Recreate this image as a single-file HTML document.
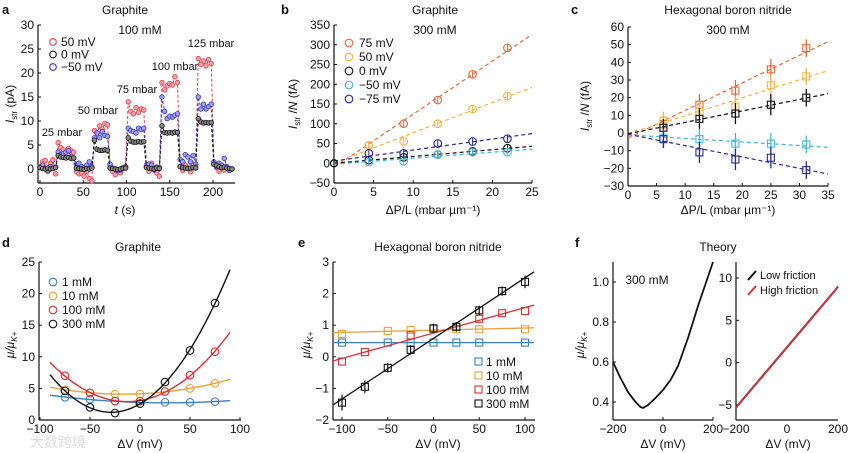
<!DOCTYPE html>
<html><head><meta charset="utf-8">
<style>
html,body{margin:0;padding:0;background:#fff;}
svg{display:block;font-family:"Liberation Sans","Noto Sans CJK SC",sans-serif;}
text{fill:#111;}
</style></head>
<body>
<svg id="fig" width="850" height="453" viewBox="0 0 850 453" xmlns="http://www.w3.org/2000/svg">
<g font-size="12">
<text x="2" y="14" font-weight="bold" font-size="13">a</text>
<text x="281" y="14" font-weight="bold" font-size="13">b</text>
<text x="571" y="14" font-weight="bold" font-size="13">c</text>
<text x="2" y="247" font-weight="bold" font-size="13">d</text>
<text x="298" y="247" font-weight="bold" font-size="13">e</text>
<text x="575" y="247" font-weight="bold" font-size="13">f</text>
<text x="125" y="14" text-anchor="middle">Graphite</text>
<text x="140" y="34" text-anchor="middle">100 mM</text>
<text x="435" y="14" text-anchor="middle">Graphite</text>
<text x="435" y="34" text-anchor="middle">300 mM</text>
<text x="728" y="14" text-anchor="middle">Hexagonal boron nitride</text>
<text x="728" y="34" text-anchor="middle">300 mM</text>
<text x="138" y="251" text-anchor="middle">Graphite</text>
<text x="438" y="251" text-anchor="middle">Hexagonal boron nitride</text>
<text x="718" y="251" text-anchor="middle">Theory</text>
<text x="647" y="284" text-anchor="middle">300 mM</text>
<text x="62" y="136" text-anchor="middle" font-size="11">25 mbar</text>
<text x="98" y="114" text-anchor="middle" font-size="11">50 mbar</text>
<text x="137" y="93" text-anchor="middle" font-size="11">75 mbar</text>
<text x="175" y="70" text-anchor="middle" font-size="11">100 mbar</text>
<text x="211" y="47" text-anchor="middle" font-size="11">125 mbar</text>
<text x="125" y="214" text-anchor="middle"><tspan font-style="italic">t</tspan> (s)</text>
<text x="433" y="214" text-anchor="middle">ΔP/L (mbar µm⁻¹)</text>
<text x="728" y="214" text-anchor="middle">ΔP/L (mbar µm⁻¹)</text>
<text x="140" y="448" text-anchor="middle">ΔV (mV)</text>
<text x="438" y="448" text-anchor="middle">ΔV (mV)</text>
<text x="663" y="448" text-anchor="middle">ΔV (mV)</text>
<text x="788" y="448" text-anchor="middle">ΔV (mV)</text>
<text transform="translate(14,104) rotate(-90)" text-anchor="middle"><tspan font-style="italic">I</tspan><tspan font-size="8" dy="3">str</tspan><tspan dy="-3"> (pA)</tspan></text>
<text transform="translate(297,104) rotate(-90)" text-anchor="middle"><tspan font-style="italic">I</tspan><tspan font-size="8" dy="3">str</tspan><tspan dy="-3"> /</tspan><tspan font-style="italic">N</tspan> (fA)</text>
<text transform="translate(589,106) rotate(-90)" text-anchor="middle"><tspan font-style="italic">I</tspan><tspan font-size="8" dy="3">str</tspan><tspan dy="-3"> /</tspan><tspan font-style="italic">N</tspan> (fA)</text>
<text transform="translate(14,345) rotate(-90)" text-anchor="middle" font-style="italic">μ/μ<tspan font-size="8" dy="3">K+</tspan></text>
<text transform="translate(310,345) rotate(-90)" text-anchor="middle" font-style="italic">μ/μ<tspan font-size="8" dy="3">K+</tspan></text>
<text transform="translate(584,345) rotate(-90)" text-anchor="middle" font-style="italic">μ/μ<tspan font-size="8" dy="3">K+</tspan></text>
<text x="760" y="279" font-size="11">Low friction</text>
<text x="760" y="294" font-size="11">High friction</text>
<text x="30" y="447" font-size="14" style="fill:#ddd">大数跨境</text>
</g>
</svg>
<script>
// ---------- data ----------
const aTime=[0,3,6,9,12,15,18,21,24,27,30,33,36,39,42,45,48,51,54,57,60,63,66,69,72,75,78,81,84,87,90,93,96,99,102,105,108,111,114,117,120,123,126,129,132,135,138,141,144,147,150,153,156,159,162,165,168,171,174,177,180,183,186,189,192,195,198,201,204,207,210,213,216,219,222];
const aBlack=[0.3,0.1,0,0.2,0,0.1,0.3, 2.8,2.5,2.4,2.3,2.4,2.2,2.3, 0.2,0.1,0,-0.1,0.1,0,0.2, 6,4.1,3.9,3.9,4,3.9, 0.2,0.1,0,-0.1,0,0.1,0.2, 6.5,5.8,5.6,5.6,5.7,5.6,5.7, 0.3,0.2,0.1,0,0.2,0.1, 9,7.6,7.5,7.6,7.5,7.7,7.6, 0.5,0.3,0.2,0.1,0.2,0.3,0.2, 10.5,9.8,9.6,9.7,9.6,9.7, 1,0.8,0.5,0.3,0.4,0.2,0.1,0];
const aRed=[0.5,1.5,1.8,-0.5,1.2,1.9,-1, 5.5,4.5,4,3.5,4.3,3.8,3.5, -0.5,-1,-0.8,-1.5,-0.5,-2,-3, 8,7.5,9,8.3,9.5,9.2, 0.5,-0.5,-1.2,-0.3,-0.8,0.3,0.5, 14,12,11.5,12.8,11.8,12.5,12.3, 0.8,-0.5,1.2,0.2,-0.8,-1.5, 18,16.5,17.3,17.8,17.5,19.2,18, 0.5,-0.3,0.8,0.2,-0.6,1,0.3, 23,21.8,22.5,21.5,22.8,22, 1,0.3,-0.5,0.8,-0.2,0.5,-0.3,0];
const aBlue=[0.3,0.8,0.2,-0.3,0.5,0.2,0.4, 3.5,3,3.2,3.5,3.8,2.5,2.3, 1,1.2,0.5,0.3,0.8,1.5,0.5, 6.5,7.5,6.5,7.8,7,6.8, 1,0.2,0,-0.3,-0.2,0.2,0.4, 8.5,8,7.8,7.5,8.5,8.2,8.5, 0.5,1,0.8,-0.2,0.4,0.3, 15,12,10.5,11,10.8,11.2,11.5, 2,1.5,3,2.5,1.5,2.8,1, 15,12.5,13.5,12.5,13,13.5, 1.5,0.5,1.2,0.8,2.2,0.5,-0.3,0];
const aXTicks=[0,50,100,150,200];
const aYTicks=[0,5,10,15,20,25,30];

const bX=[4.4,8.8,13.1,17.5,21.9];
const b75=[45,100,160,225,292];
const b50=[45,55,100,137,170];
const b0=[8,15,22,30,38];
const bm50=[3,5,22,28,28];
const bm75=[25,25,50,55,62];
const bLabels=["75 mV","50 mV","0 mV","\u221250 mV","\u221275 mV"];
const bXTicks=[0,5,10,15,20,25];
const bYTicks=[-50,0,50,100,150,200,250,300,350];

const cX=[6.2,12.5,18.8,25,31.2];
const c75=[5,16,24,36,48];
const c50=[7,12,15,27,32];
const c0=[3,8,11,16,20];
const cm50=[-3,-3.5,-6,-6,-6.5];
const cm75=[-3.5,-11,-15,-14,-21];
const cErr=[5,6,6,6,5];
const cXTicks=[0,5,10,15,20,25,30,35];
const cYTicks=[-30,-20,-10,0,10,20,30,40,50,60];

const dX=[-75,-50,-25,0,25,50,75];
const d1=[3.6,3.3,3.0,2.6,2.8,2.8,2.9];
const d10=[4.8,4.3,4.1,4.1,4.5,5,5.8];
const d100=[7,4.3,3.0,3.0,4.5,7.1,10.8];
const d300=[4.6,2.0,1.1,2.6,6,11,18.5];
const dLabels=["1 mM","10 mM","100 mM","300 mM"];
const dXTicks=[-100,-50,0,50,100];
const dYTicks=[0,5,10,15,20,25];

const eX=[-100,-75,-50,-25,0,25,50,75,100];
const e1=[0.45,null,0.45,0.45,0.45,0.45,0.45,null,0.45];
const e10=[0.72,null,0.82,0.85,0.88,0.88,0.87,null,0.87];
const e100=[-0.15,0.15,null,0.68,null,null,1.2,1.38,1.45];
const e300=[-1.45,-0.95,-0.35,0.22,0.9,0.95,1.47,2.08,2.37];
const e300Err=[0.25,0.2,0.15,0.15,0.15,0.15,0.15,0.15,0.2];
const eXTicks=[-100,-50,0,50,100];
const eYTicks=[-2,-1,0,1,2,3];

const fX=[-200,-170,-140,-110,-90,-80,-60,-30,0,30,60,100,140,170,200];
const fY=[0.6,0.52,0.45,0.4,0.375,0.37,0.385,0.42,0.46,0.51,0.58,0.72,0.88,0.99,1.1];
const fRX=[-200,190,200];
const fRLow=[-5.3,8.6,9.0];
const fRHigh=[-5.3,8.6,9.0];
const fXTicks=[-200,0,200];
const fYTicks=[0.4,0.6,0.8,1.0];
const fRYTicks=[-5,0,5,10];

// ---------- helpers ----------
const NS="http://www.w3.org/2000/svg";
const svg=document.getElementById('fig');
function mk(tag,attrs,name){
  const e=document.createElementNS(NS,tag);
  for(const k in attrs) e.setAttribute(k,attrs[k]);
  
  
  svg.appendChild(e);return e;
}
function scale(d0,d1,p0,p1){return v=>p0+(v-d0)*(p1-p0)/(d1-d0);}
function axes(sx,sy,xl,xr,yb,yt,xt,yt2,nm,fmt){
  mk('line',{x1:xl,y1:yb,x2:xr,y2:yb,stroke:'#111','stroke-width':1.2},nm+'-x-axis');
  mk('line',{x1:xl,y1:yb,x2:xl,y2:yt,stroke:'#111','stroke-width':1.2},nm+'-y-axis');
  xt.forEach(v=>{
    mk('line',{x1:sx(v),y1:yb,x2:sx(v),y2:yb-3,stroke:'#111'},nm+'-x-tick');
    const t=mk('text',{x:sx(v),y:yb+13,'text-anchor':'middle','font-size':12},nm+'-x-tick-label');
    t.textContent=String(v).replace('-','\u2212');
  });
  yt2.forEach(v=>{
    mk('line',{x1:xl,y1:sy(v),x2:xl+3,y2:sy(v),stroke:'#111'},nm+'-y-tick');
    const t=mk('text',{x:xl-4,y:sy(v)+4,'text-anchor':'end','font-size':12},nm+'-y-tick-label');
    t.textContent=(fmt?fmt(v):String(v)).replace('-','\u2212');
  });
}
function linfit(xs,ys){let n=0,sx=0,sy=0,sxx=0,sxy=0;xs.forEach((x,i)=>{const y=ys[i];if(y==null)return;n++;sx+=x;sy+=y;sxx+=x*x;sxy+=x*y;});const b=(n*sxy-sx*sy)/(n*sxx-sx*sx);return [(sy-b*sx)/n,b];}
function quadfit(xs,ys){
  let S=[0,0,0,0,0],T=[0,0,0];
  xs.forEach((x,i)=>{const y=ys[i];for(let k=0;k<5;k++)S[k]+=Math.pow(x,k);for(let k=0;k<3;k++)T[k]+=y*Math.pow(x,k);});
  const M=[[S[0],S[1],S[2],T[0]],[S[1],S[2],S[3],T[1]],[S[2],S[3],S[4],T[2]]];
  for(let i=0;i<3;i++){for(let j=i+1;j<3;j++){const f=M[j][i]/M[i][i];for(let k=i;k<4;k++)M[j][k]-=f*M[i][k];}}
  const c=[0,0,0];for(let i=2;i>=0;i--){let s=M[i][3];for(let k=i+1;k<3;k++)s-=M[i][k]*c[k];c[i]=s/M[i][i];}
  return c;
}
function poly(pts,stroke,w,dash,name){
  const attrs={points:pts.map(p=>p[0].toFixed(1)+','+p[1].toFixed(1)).join(' '),fill:'none',stroke:stroke,'stroke-width':w};
  if(dash)attrs['stroke-dasharray']=dash;
  return mk('polyline',attrs,name);
}

// ---------- panel a ----------
(function(){
  const sx=scale(0,200,40,213), sy=scale(0,30,169,25);
  axes(sx,sy,38,235,183,25,aXTicks,aYTicks,'panel-a');
  const ser=[[aRed,'#e0404f','#f0a0a8'],[aBlue,'#3535c8','#a0a0f0'],[aBlack,'#111','#888']];
  ser.forEach(([ys,c,f])=>{
    poly(aTime.map((t,i)=>[sx(t),sy(Math.max(-2.5,ys[i]))]),c,1,'3,2','series-line-a');
    aTime.forEach((t,i)=>{mk('circle',{cx:sx(t),cy:sy(Math.max(-2.5,ys[i])),r:2.3,fill:f,stroke:c,'stroke-width':0.8},'point-a');});
  });
  const leg=[['50 mV','#e0404f'],['0 mV','#111'],['\u221250 mV','#3535c8']];
  leg.forEach(([l,c],i)=>{
    mk('circle',{cx:53,cy:42+12.5*i,r:3.3,fill:'none',stroke:c,'stroke-width':1.1},'legend-marker-a');
    const t=mk('text',{x:61,y:46+12.5*i,'font-size':12},'legend-label-a');t.textContent=l;
  });
})();

// ---------- panel b ----------
(function(){
  const sx=scale(0,25,334,532), sy=scale(-50,350,183,25);
  axes(sx,sy,334,532,183,25,bXTicks,bYTicks,'panel-b');
  const ser=[[b75,'#e06a3a'],[b50,'#eeb646'],[b0,'#111'],[bm50,'#45b5d5'],[bm75,'#2a2a90']];
  ser.forEach(([ys,c])=>{
    const [a,b]=linfit([0].concat(bX),[0].concat(ys));
    poly([[sx(0),sy(a)],[sx(25),sy(a+b*25)]],c,1.2,'4,3','fit-line-b');
    mk('circle',{cx:sx(0),cy:sy(0),r:3.5,fill:'none',stroke:'#111'},'point-b-origin');
    bX.forEach((x,i)=>{
      mk('line',{x1:sx(x),y1:sy(ys[i]-8),x2:sx(x),y2:sy(ys[i]+8),stroke:c},'errorbar-b');
      mk('circle',{cx:sx(x),cy:sy(ys[i]),r:3.8,fill:'none',stroke:c,'stroke-width':1.1},'point-b');
    });
  });
  ser.forEach(([ys,c],i)=>{
    mk('circle',{cx:349,cy:43+14*i,r:3.8,fill:'none',stroke:c,'stroke-width':1.1},'legend-marker-b');
    const t=mk('text',{x:359,y:47+14*i,'font-size':12},'legend-label-b');t.textContent=bLabels[i];
  });
})();

// ---------- panel c ----------
(function(){
  const sx=scale(0,35,628,828), sy=scale(-30,60,186,27);
  axes(sx,sy,628,828,186,27,cXTicks,cYTicks,'panel-c');
  const ser=[[c75,'#e06a3a'],[c50,'#eeb646'],[c0,'#111'],[cm50,'#45b5d5'],[cm75,'#2a2a90']];
  ser.forEach(([ys,c])=>{
    const [a,b]=linfit([0].concat(cX),[0].concat(ys));
    poly([[sx(0),sy(a)],[sx(35),sy(a+b*35)]],c,1.2,'4,3','fit-line-c');
    cX.forEach((x,i)=>{
      mk('line',{x1:sx(x),y1:sy(ys[i]-cErr[i]),x2:sx(x),y2:sy(ys[i]+cErr[i]),stroke:c,'stroke-width':1.3},'errorbar-c');
      mk('rect',{x:sx(x)-3.5,y:sy(ys[i])-3.5,width:7,height:7,fill:'none',stroke:c,'stroke-width':1.1},'point-c');
    });
  });
})();

// ---------- panel d ----------
(function(){
  const sx=scale(-100,100,40,240), sy=scale(0,25,420,262);
  axes(sx,sy,39,241,420,262,dXTicks,dYTicks,'panel-d');
  const ser=[[d1,'#3a80c4'],[d10,'#e8a23a'],[d100,'#d8303a'],[d300,'#111']];
  ser.forEach(([ys,c])=>{
    const q=quadfit(dX,ys);const pts=[];
    for(let v=-90;v<=90;v+=3)pts.push([sx(v),sy(q[0]+q[1]*v+q[2]*v*v)]);
    poly(pts,c,1.4,null,'fit-curve-d');
    dX.forEach((x,i)=>{mk('circle',{cx:sx(x),cy:sy(ys[i]),r:3.8,fill:'none',stroke:c,'stroke-width':1.1},'point-d');});
  });
  ser.forEach(([ys,c],i)=>{
    mk('circle',{cx:53,cy:282+14*i,r:3.8,fill:'none',stroke:c,'stroke-width':1.1},'legend-marker-d');
    const t=mk('text',{x:62,y:286+14*i,'font-size':12},'legend-label-d');t.textContent=dLabels[i];
  });
})();

// ---------- panel e ----------
(function(){
  const sx=scale(-100,100,342,525), sy=scale(-2,3,420,262);
  axes(sx,sy,333,535,420,262,eXTicks,eYTicks,'panel-e');
  const ser=[[e1,'#3a80c4'],[e10,'#e8a23a'],[e100,'#d8303a'],[e300,'#111']];
  ser.forEach(([ys,c],si)=>{
    const [a,b]=linfit(eX,ys);
    poly([[sx(-110),sy(a-110*b)],[sx(110),sy(a+110*b)]],c,1.3,null,'fit-line-e');
    eX.forEach((x,i)=>{
      if(ys[i]==null)return;
      if(si===3)mk('line',{x1:sx(x),y1:sy(ys[i]-e300Err[i]),x2:sx(x),y2:sy(ys[i]+e300Err[i]),stroke:c,'stroke-width':1.2},'errorbar-e');
      mk('rect',{x:sx(x)-3.5,y:sy(ys[i])-3.5,width:7,height:7,fill:'none',stroke:c,'stroke-width':1.1},'point-e');
    });
  });
  ser.forEach(([ys,c],i)=>{
    mk('rect',{x:475,y:358+14*i,width:7,height:7,fill:'none',stroke:c,'stroke-width':1.1},'legend-marker-e');
    const t=mk('text',{x:486,y:366+14*i,'font-size':12},'legend-label-e');t.textContent=dLabels[i];
  });
})();

// ---------- panel f ----------
(function(){
  const sx=scale(-200,200,613,713), sy=scale(0.4,1.0,402,282);
  axes(sx,sy,613,713,420,262,fXTicks,fYTicks,'panel-f-left',v=>v.toFixed(1));
  poly(fX.map((x,i)=>[sx(x),sy(fY[i])]),'#111',1.8,null,'theory-curve');
  const rx=scale(-200,200,736,838), ry=scale(-5,10,405,278);
  axes(rx,ry,736,838,420,262,[],fRYTicks,'panel-f-right');
  fXTicks.forEach(v=>{const t=mk('text',{x:rx(v),y:433,'text-anchor':'middle','font-size':12},'panel-f-right-x-tick-label');t.textContent=String(v).replace('-','\u2212');});
  poly(fRX.map((x,i)=>[rx(x),ry(fRLow[i])]),'#111',2,null,'low-friction-line');
  poly(fRX.map((x,i)=>[rx(x),ry(fRHigh[i])]),'#d83040',1.6,null,'high-friction-line');
  mk('line',{x1:748,y1:280,x2:756,y2:271,stroke:'#111','stroke-width':2},'legend-marker-low-friction');
  mk('line',{x1:748,y1:295,x2:756,y2:286,stroke:'#d83040','stroke-width':2},'legend-marker-high-friction');
})();
</script>
</body></html>
